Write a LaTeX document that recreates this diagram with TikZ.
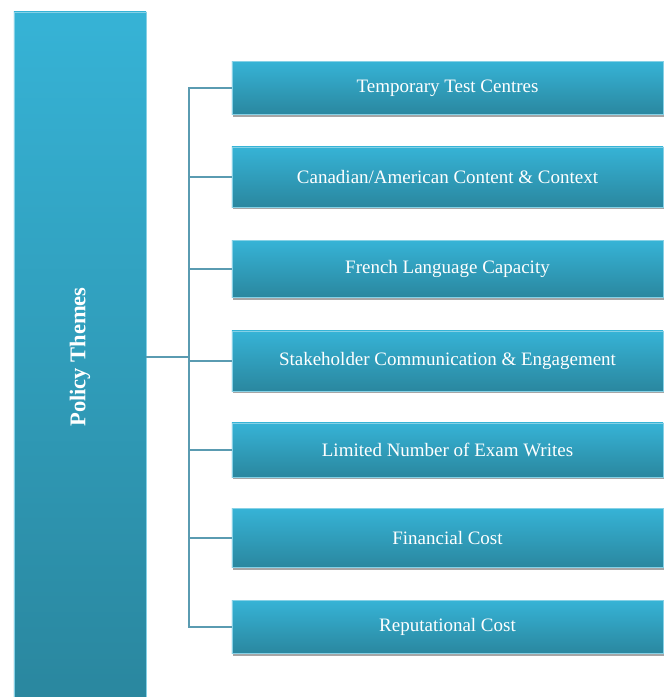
\documentclass[tikz,border=0pt]{standalone}
\usepackage{fontspec}
\setmainfont{Liberation Serif}
\usetikzlibrary{shadows}

\definecolor{tealtop}{HTML}{36B3D6}
\definecolor{tealbot}{HTML}{2A879F}
\definecolor{linkblue}{HTML}{5A9BB1}

\tikzset{
  theme/.style={top color=tealtop, bottom color=tealbot, draw=tealtop!60!white, line width=0.3pt,
    minimum width=10.775cm, minimum height=1.425cm, text=white, font=\fontsize{13.5}{16}\selectfont,
    drop shadow={shadow xshift=0.6pt, shadow yshift=-1.6pt, fill=black, opacity=0.35}},
  link/.style={draw=linkblue, line width=0.9pt}
}

\begin{document}
\begin{tikzpicture}[x=0.025cm, y=0.025cm]
            \useasboundingbox (0,0) rectangle (664,697);

            % Left bar
            \node[top color=tealtop, bottom color=tealbot, draw=tealtop!60!white, line width=0.3pt,
              minimum width=3.3cm, minimum height=17.125cm, inner sep=0pt,
              drop shadow={shadow xshift=0.6pt, shadow yshift=-1.2pt, fill=black, opacity=0.25}]
              (themes) at (80,342.5) {};
            \node[rotate=90, text=white, font=\fontsize{16}{19}\bfseries] (title) at (80,340) {Policy Themes};

            % Theme boxes
            \node[theme, minimum height=1.325cm] (t1) at (447.5,609) {Temporary Test Centres};
            \node[theme, minimum height=1.5cm] (t2) at (447.5,520) {Canadian/American Content \& Context};
            \node[theme] (t3) at (447.5,428) {French Language Capacity};
            \node[theme, minimum height=1.5cm] (t4) at (447.5,336) {Stakeholder Communication \& Engagement};
            \node[theme, minimum height=1.35cm] (t5) at (447.5,247) {Limited Number of Exam Writes};
            \node[theme, minimum height=1.475cm] (t6) at (447.5,159) {Financial Cost};
            \node[theme, minimum height=1.325cm] (t7) at (447.5,70) {Reputational Cost};

            % Tree lines
            \coordinate (trunk) at (189,340);
            \draw[link] (themes.east |- trunk) -- (trunk);
            \draw[link] (t1.west) -| (trunk);
            \draw[link] (t2.west) -| (trunk);
            \draw[link] (t3.west) -| (trunk);
            \draw[link] (t4.west) -| (trunk);
            \draw[link] (t5.west) -| (trunk);
            \draw[link] (t6.west) -| (trunk);
            \draw[link] (t7.west) -| (trunk);
\end{tikzpicture}
\end{document}
